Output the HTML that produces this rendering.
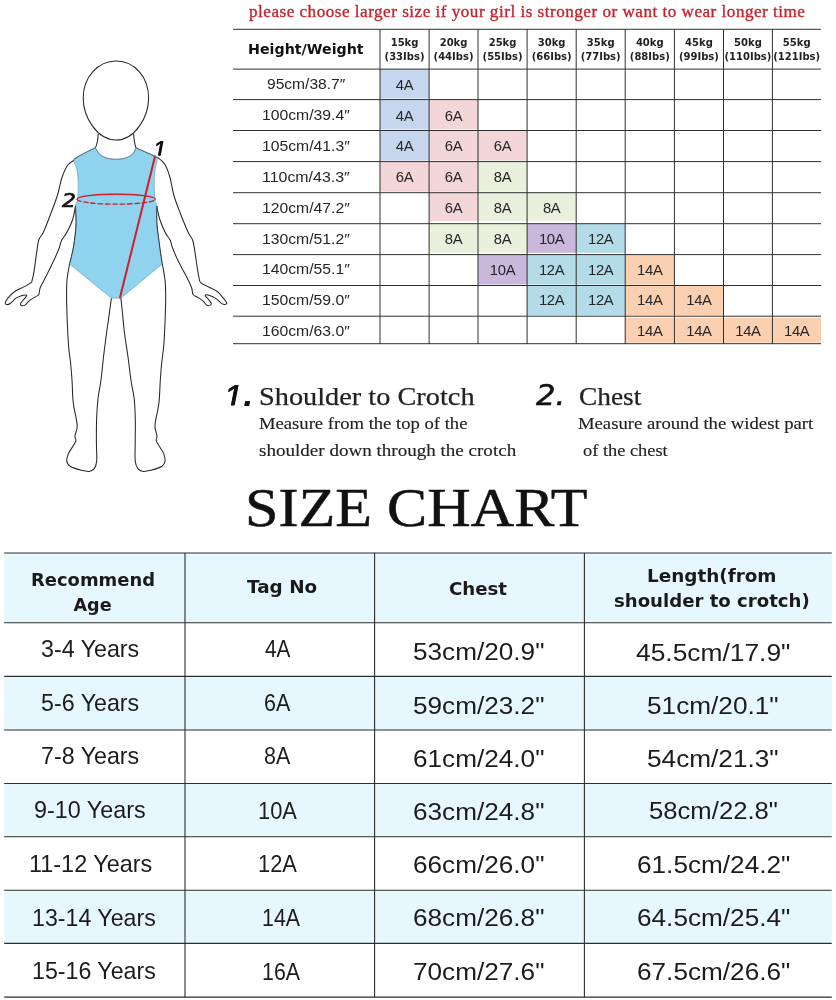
<!DOCTYPE html>
<html lang="en"><head><meta charset="utf-8"><title>Size Chart</title>
<style>
html,body{margin:0;padding:0;background:#fff;}
body{width:836px;height:1000px;position:relative;overflow:hidden;font-family:"Liberation Sans","DejaVu Sans",sans-serif;color:#1a1a1a;}
.abs{position:absolute;}
.t{position:absolute;white-space:nowrap;line-height:1;transform-origin:0 0;}
.c{text-align:center;}
.u{font-family:"Liberation Sans",sans-serif;color:#262626;}
.uh{font-family:"DejaVu Sans",sans-serif;font-weight:bold;color:#222;}
.b{font-family:"Liberation Sans",sans-serif;color:#1c1c1c;}
.bh{font-family:"DejaVu Sans",sans-serif;font-weight:bold;color:#1a1a1a;}
.n{font-family:"DejaVu Sans",sans-serif;font-style:italic;color:#111;-webkit-text-stroke:0.55px #111;}
.n1{font-family:"Liberation Sans",sans-serif;font-style:italic;color:#111;text-shadow:0.35px 0 0 #111,-0.35px 0 0 #111;}
.g{font-family:"Liberation Serif",serif;color:#222;}
</style></head><body>
<div class="t g" id="red" style="left:248.60px;top:3.14px;font-size:17px;transform:scaleX(1.0058);color:#c4242c;letter-spacing:0.5px;-webkit-text-stroke:0.35px #c4242c;">please choose larger size if your girl is stronger or want to wear longer time</div>
<svg class="abs" style="left:0;top:0" width="836" height="360" viewBox="0 0 836 360"><rect x="380.0" y="69.1" width="49.1" height="29.5" fill="#c6d6ee"/><rect x="380.0" y="99.6" width="49.1" height="29.9" fill="#c6d6ee"/><rect x="429.1" y="99.6" width="48.9" height="29.9" fill="#f3d7d8"/><rect x="380.0" y="130.5" width="49.1" height="30.1" fill="#c6d6ee"/><rect x="429.1" y="130.5" width="48.9" height="30.1" fill="#f3d7d8"/><rect x="478" y="130.5" width="49.1" height="30.1" fill="#f3d7d8"/><rect x="380.0" y="161.6" width="49.1" height="30.1" fill="#f3d7d8"/><rect x="429.1" y="161.6" width="48.9" height="30.1" fill="#f3d7d8"/><rect x="478" y="161.6" width="49.1" height="30.1" fill="#e9f0dc"/><rect x="429.1" y="192.7" width="48.9" height="28.5" fill="#f3d7d8"/><rect x="478" y="192.7" width="49.1" height="28.5" fill="#e9f0dc"/><rect x="527.1" y="192.7" width="49.1" height="28.5" fill="#e9f0dc"/><rect x="429.1" y="223.7" width="48.9" height="29.1" fill="#e9f0dc"/><rect x="478" y="223.7" width="49.1" height="29.1" fill="#e9f0dc"/><rect x="527.1" y="223.7" width="49.1" height="29.1" fill="#c9b8dc"/><rect x="576.2" y="223.7" width="49.0" height="29.1" fill="#b3dbe8"/><rect x="478" y="254.6" width="49.1" height="29.9" fill="#c9b8dc"/><rect x="527.1" y="254.6" width="49.1" height="29.9" fill="#b3dbe8"/><rect x="576.2" y="254.6" width="49.0" height="29.9" fill="#b3dbe8"/><rect x="625.2" y="254.6" width="49.2" height="29.9" fill="#fbd0b1"/><rect x="527.1" y="285.5" width="49.1" height="29.7" fill="#b3dbe8"/><rect x="576.2" y="285.5" width="49.0" height="29.7" fill="#b3dbe8"/><rect x="625.2" y="285.5" width="49.2" height="29.7" fill="#fbd0b1"/><rect x="674.4" y="285.5" width="49.1" height="29.7" fill="#fbd0b1"/><rect x="625.2" y="317.7" width="49.2" height="25.0" fill="#fbd0b1"/><rect x="674.4" y="317.7" width="49.1" height="25.0" fill="#fbd0b1"/><rect x="723.5" y="317.7" width="48.9" height="25.0" fill="#fbd0b1"/><rect x="772.4" y="317.7" width="48.6" height="25.0" fill="#fbd0b1"/><path d="M233 29.3H821M233 69.1H821M233 99.6H821M233 130.5H821M233 161.6H821M233 192.7H821M233 223.7H821M233 254.6H821M233 285.5H821M233 316.2H821M233 343.7H821M380.0 29V344M429.1 29V344M478 29V344M527.1 29V344M576.2 29V344M625.2 29V344M674.4 29V344M723.5 29V344M772.4 29V344" stroke="#303030" stroke-width="1" fill="none"/></svg>
<div class="t uh" id="hw" style="left:247.51px;top:42.05px;font-size:14.3px;transform:scaleX(0.9957);color:#111;">Height/Weight</div>
<div class="t c uh" style="left:374.0px;width:61.1px;top:37.64px;font-size:10px;">15kg</div>
<div class="t c uh" style="left:374.0px;width:61.1px;top:52.14px;font-size:10px;">(33Ibs)</div>
<div class="t c uh" style="left:423.1px;width:60.9px;top:37.64px;font-size:10px;">20kg</div>
<div class="t c uh" style="left:423.1px;width:60.9px;top:52.14px;font-size:10px;">(44Ibs)</div>
<div class="t c uh" style="left:472.0px;width:61.1px;top:37.64px;font-size:10px;">25kg</div>
<div class="t c uh" style="left:472.0px;width:61.1px;top:52.14px;font-size:10px;">(55Ibs)</div>
<div class="t c uh" style="left:521.1px;width:61.1px;top:37.64px;font-size:10px;">30kg</div>
<div class="t c uh" style="left:521.1px;width:61.1px;top:52.14px;font-size:10px;">(66Ibs)</div>
<div class="t c uh" style="left:570.2px;width:61.0px;top:37.64px;font-size:10px;">35kg</div>
<div class="t c uh" style="left:570.2px;width:61.0px;top:52.14px;font-size:10px;">(77Ibs)</div>
<div class="t c uh" style="left:619.2px;width:61.2px;top:37.64px;font-size:10px;">40kg</div>
<div class="t c uh" style="left:619.2px;width:61.2px;top:52.14px;font-size:10px;">(88Ibs)</div>
<div class="t c uh" style="left:668.4px;width:61.1px;top:37.64px;font-size:10px;">45kg</div>
<div class="t c uh" style="left:668.4px;width:61.1px;top:52.14px;font-size:10px;">(99Ibs)</div>
<div class="t c uh" style="left:717.5px;width:60.9px;top:37.64px;font-size:10px;">50kg</div>
<div class="t c uh" style="left:717.5px;width:60.9px;top:52.14px;font-size:10px;">(110Ibs)</div>
<div class="t c uh" style="left:766.4px;width:60.6px;top:37.64px;font-size:10px;">55kg</div>
<div class="t c uh" style="left:766.4px;width:60.6px;top:52.14px;font-size:10px;">(121Ibs)</div>
<div class="t u" id="h0" style="left:266.59px;top:77.17px;font-size:14.8px;transform:scaleX(1.0527);">95cm/38.7″</div>
<div class="t c u" style="left:380.0px;width:49.1px;top:77.57px;font-size:14.8px;letter-spacing:-0.3px;">4A</div>
<div class="t u" id="h1" style="left:262.14px;top:108.27px;font-size:14.8px;transform:scaleX(1.0630);">100cm/39.4″</div>
<div class="t c u" style="left:380.0px;width:49.1px;top:108.67px;font-size:14.8px;letter-spacing:-0.3px;">4A</div>
<div class="t c u" style="left:429.1px;width:48.9px;top:108.67px;font-size:14.8px;letter-spacing:-0.3px;">6A</div>
<div class="t u" id="h2" style="left:262.14px;top:139.07px;font-size:14.8px;transform:scaleX(1.0630);">105cm/41.3″</div>
<div class="t c u" style="left:380.0px;width:49.1px;top:139.47px;font-size:14.8px;letter-spacing:-0.3px;">4A</div>
<div class="t c u" style="left:429.1px;width:48.9px;top:139.47px;font-size:14.8px;letter-spacing:-0.3px;">6A</div>
<div class="t c u" style="left:478.0px;width:49.1px;top:139.47px;font-size:14.8px;letter-spacing:-0.3px;">6A</div>
<div class="t u" id="h3" style="left:262.13px;top:169.77px;font-size:14.8px;transform:scaleX(1.0762);">110cm/43.3″</div>
<div class="t c u" style="left:380.0px;width:49.1px;top:170.17px;font-size:14.8px;letter-spacing:-0.3px;">6A</div>
<div class="t c u" style="left:429.1px;width:48.9px;top:170.17px;font-size:14.8px;letter-spacing:-0.3px;">6A</div>
<div class="t c u" style="left:478.0px;width:49.1px;top:170.17px;font-size:14.8px;letter-spacing:-0.3px;">8A</div>
<div class="t u" id="h4" style="left:262.14px;top:200.87px;font-size:14.8px;transform:scaleX(1.0630);">120cm/47.2″</div>
<div class="t c u" style="left:429.1px;width:48.9px;top:201.27px;font-size:14.8px;letter-spacing:-0.3px;">6A</div>
<div class="t c u" style="left:478.0px;width:49.1px;top:201.27px;font-size:14.8px;letter-spacing:-0.3px;">8A</div>
<div class="t c u" style="left:527.1px;width:49.1px;top:201.27px;font-size:14.8px;letter-spacing:-0.3px;">8A</div>
<div class="t u" id="h5" style="left:262.14px;top:231.57px;font-size:14.8px;transform:scaleX(1.0630);">130cm/51.2″</div>
<div class="t c u" style="left:429.1px;width:48.9px;top:231.97px;font-size:14.8px;letter-spacing:-0.3px;">8A</div>
<div class="t c u" style="left:478.0px;width:49.1px;top:231.97px;font-size:14.8px;letter-spacing:-0.3px;">8A</div>
<div class="t c u" style="left:527.1px;width:49.1px;top:231.97px;font-size:14.8px;letter-spacing:-0.3px;">10A</div>
<div class="t c u" style="left:576.2px;width:49.0px;top:231.97px;font-size:14.8px;letter-spacing:-0.3px;">12A</div>
<div class="t u" id="h6" style="left:262.14px;top:262.37px;font-size:14.8px;transform:scaleX(1.0630);">140cm/55.1″</div>
<div class="t c u" style="left:478.0px;width:49.1px;top:262.77px;font-size:14.8px;letter-spacing:-0.3px;">10A</div>
<div class="t c u" style="left:527.1px;width:49.1px;top:262.77px;font-size:14.8px;letter-spacing:-0.3px;">12A</div>
<div class="t c u" style="left:576.2px;width:49.0px;top:262.77px;font-size:14.8px;letter-spacing:-0.3px;">12A</div>
<div class="t c u" style="left:625.2px;width:49.2px;top:262.77px;font-size:14.8px;letter-spacing:-0.3px;">14A</div>
<div class="t u" id="h7" style="left:262.14px;top:293.07px;font-size:14.8px;transform:scaleX(1.0630);">150cm/59.0″</div>
<div class="t c u" style="left:527.1px;width:49.1px;top:293.47px;font-size:14.8px;letter-spacing:-0.3px;">12A</div>
<div class="t c u" style="left:576.2px;width:49.0px;top:293.47px;font-size:14.8px;letter-spacing:-0.3px;">12A</div>
<div class="t c u" style="left:625.2px;width:49.2px;top:293.47px;font-size:14.8px;letter-spacing:-0.3px;">14A</div>
<div class="t c u" style="left:674.4px;width:49.1px;top:293.47px;font-size:14.8px;letter-spacing:-0.3px;">14A</div>
<div class="t u" id="h8" style="left:262.14px;top:323.97px;font-size:14.8px;transform:scaleX(1.0630);">160cm/63.0″</div>
<div class="t c u" style="left:625.2px;width:49.2px;top:324.37px;font-size:14.8px;letter-spacing:-0.3px;">14A</div>
<div class="t c u" style="left:674.4px;width:49.1px;top:324.37px;font-size:14.8px;letter-spacing:-0.3px;">14A</div>
<div class="t c u" style="left:723.5px;width:48.9px;top:324.37px;font-size:14.8px;letter-spacing:-0.3px;">14A</div>
<div class="t c u" style="left:772.4px;width:48.6px;top:324.37px;font-size:14.8px;letter-spacing:-0.3px;">14A</div>
<div class="t g" id="s1" style="left:259.06px;top:383.51px;font-size:25.8px;transform:scaleX(1.0979);-webkit-text-stroke:0.25px #222;">Shoulder to Crotch</div>
<div class="t g" id="s1a" style="left:259.38px;top:415.39px;font-size:17.3px;transform:scaleX(1.0777);-webkit-text-stroke:0.15px #222;">Measure from the top of the</div>
<div class="t g" id="s1b" style="left:259.37px;top:442.49px;font-size:17.3px;transform:scaleX(1.1026);-webkit-text-stroke:0.15px #222;">shoulder down through the crotch</div>
<div class="t g" id="s2" style="left:578.76px;top:383.71px;font-size:25.8px;transform:scaleX(1.0603);-webkit-text-stroke:0.25px #222;">Chest</div>
<div class="t g" id="s2a" style="left:578.17px;top:415.39px;font-size:17.3px;transform:scaleX(1.0798);-webkit-text-stroke:0.15px #222;">Measure around the widest part</div>
<div class="t g" id="s2b" style="left:583.21px;top:441.89px;font-size:17.3px;transform:scaleX(1.0625);-webkit-text-stroke:0.15px #222;">of the chest</div>
<div class="t g" id="title" style="left:244.88px;top:480.19px;font-size:55px;transform:scaleX(1.0942);color:#111;-webkit-text-stroke:0.5px #111;">SIZE CHART</div>
<div class="t n1" id="n1" style="left:223.54px;top:379.8px;font-size:34.5px;"><span style="display:inline-block;clip-path:inset(0 0 9.0px 0);">1</span><span style="position:absolute;left:19.3px;top:-10.9px;font-size:44px;line-height:1;">.</span></div>
<div class="t n" id="n2" style="left:536.37px;top:381.92px;font-size:27.5px;transform:scaleX(1.1130);">2.</div>
<svg class="abs" style="left:0;top:540px" width="836" height="460" viewBox="0 540 836 460"><rect x="4.2" y="553" width="827.6" height="69.7" fill="#e7f7fe"/><rect x="4.2" y="676.4" width="827.6" height="53.6" fill="#e7f7fe"/><rect x="4.2" y="783.5" width="827.6" height="53.3" fill="#e7f7fe"/><rect x="4.2" y="890.2" width="827.6" height="53.2" fill="#e7f7fe"/><path d="M4.2 553H831.8M4.2 622.7H831.8M4.2 676.4H831.8M4.2 730H831.8M4.2 783.5H831.8M4.2 836.8H831.8M4.2 890.2H831.8M4.2 943.4H831.8M4.2 997.1H831.8M185 553V997.1M374.6 553V997.1M584.4 553V997.1" stroke="#2e2e2e" stroke-width="1.1" fill="none"/></svg>
<div class="t bh" id="lh0a" style="left:30.58px;top:571.75px;font-size:17.6px;transform:scaleX(1.0185);">Recommend</div>
<div class="t bh" id="lh0b" style="left:73.50px;top:596.75px;font-size:17.6px;">Age</div>
<div class="t bh" id="lh1" style="left:246.51px;top:578.50px;font-size:17.6px;transform:scaleX(1.0448);">Tag No</div>
<div class="t bh" id="lh2" style="left:448.98px;top:581.00px;font-size:17.6px;transform:scaleX(1.0318);">Chest</div>
<div class="t bh" id="lh3a" style="left:646.73px;top:568.10px;font-size:17.6px;transform:scaleX(1.0446);">Length(from</div>
<div class="t bh" id="lh3b" style="left:613.97px;top:592.50px;font-size:17.6px;transform:scaleX(1.0293);">shoulder to crotch)</div>
<div class="t b" id="a0" style="left:41.05px;top:637.25px;font-size:24.4px;transform:scaleX(0.9530);">3-4 Years</div>
<div class="t b" id="b0" style="left:265.00px;top:637.25px;font-size:24.4px;transform:scaleX(0.8500);">4A</div>
<div class="t b" id="c0" style="left:412.89px;top:640.25px;font-size:24.4px;transform:scaleX(1.0725);">53cm/20.9"</div>
<div class="t b" id="d0" style="left:635.96px;top:641.25px;font-size:24.4px;transform:scaleX(1.0809);">45.5cm/17.9"</div>
<div class="t b" id="a1" style="left:41.05px;top:690.75px;font-size:24.4px;transform:scaleX(0.9530);">5-6 Years</div>
<div class="t b" id="b1" style="left:264.12px;top:690.75px;font-size:24.4px;transform:scaleX(0.8793);">6A</div>
<div class="t b" id="c1" style="left:412.89px;top:694.00px;font-size:24.4px;transform:scaleX(1.0725);">59cm/23.2"</div>
<div class="t b" id="d1" style="left:646.68px;top:694.15px;font-size:24.4px;transform:scaleX(1.0742);">51cm/20.1"</div>
<div class="t b" id="a2" style="left:41.05px;top:744.15px;font-size:24.4px;transform:scaleX(0.9530);">7-8 Years</div>
<div class="t b" id="b2" style="left:264.12px;top:744.15px;font-size:24.4px;transform:scaleX(0.8793);">8A</div>
<div class="t b" id="c2" style="left:412.89px;top:746.75px;font-size:24.4px;transform:scaleX(1.0725);">61cm/24.0"</div>
<div class="t b" id="d2" style="left:646.68px;top:746.65px;font-size:24.4px;transform:scaleX(1.0742);">54cm/21.3"</div>
<div class="t b" id="a3" style="left:34.06px;top:798.05px;font-size:24.4px;transform:scaleX(0.9579);">9-10 Years</div>
<div class="t b" id="b3" style="left:258.20px;top:798.75px;font-size:24.4px;transform:scaleX(0.8976);">10A</div>
<div class="t b" id="c3" style="left:412.89px;top:799.55px;font-size:24.4px;transform:scaleX(1.0725);">63cm/24.8"</div>
<div class="t b" id="d3" style="left:648.56px;top:799.35px;font-size:24.4px;transform:scaleX(1.0521);">58cm/22.8"</div>
<div class="t b" id="a4" style="left:28.67px;top:851.65px;font-size:24.4px;transform:scaleX(0.9603);">11-12 Years</div>
<div class="t b" id="b4" style="left:258.20px;top:852.35px;font-size:24.4px;transform:scaleX(0.8976);">12A</div>
<div class="t b" id="c4" style="left:412.89px;top:852.95px;font-size:24.4px;transform:scaleX(1.0725);">66cm/26.0"</div>
<div class="t b" id="d4" style="left:636.55px;top:852.55px;font-size:24.4px;transform:scaleX(1.0730);">61.5cm/24.2"</div>
<div class="t b" id="a5" style="left:31.90px;top:905.65px;font-size:24.4px;transform:scaleX(0.9504);">13-14 Years</div>
<div class="t b" id="b5" style="left:261.81px;top:905.95px;font-size:24.4px;transform:scaleX(0.8762);">14A</div>
<div class="t b" id="c5" style="left:412.89px;top:905.85px;font-size:24.4px;transform:scaleX(1.0725);">68cm/26.8"</div>
<div class="t b" id="d5" style="left:636.55px;top:905.75px;font-size:24.4px;transform:scaleX(1.0730);">64.5cm/25.4"</div>
<div class="t b" id="a6" style="left:31.90px;top:959.25px;font-size:24.4px;transform:scaleX(0.9504);">15-16 Years</div>
<div class="t b" id="b6" style="left:261.81px;top:959.95px;font-size:24.4px;transform:scaleX(0.8762);">16A</div>
<div class="t b" id="c6" style="left:412.89px;top:959.75px;font-size:24.4px;transform:scaleX(1.0725);">70cm/27.6"</div>
<div class="t b" id="d6" style="left:636.55px;top:959.55px;font-size:24.4px;transform:scaleX(1.0730);">67.5cm/26.6"</div>
<svg class="abs" style="left:0;top:0" width="240" height="540" viewBox="0 0 240 540">
<g fill="none" stroke="#262626" stroke-width="1.05" stroke-linejoin="round" stroke-linecap="round">
<path d="M98.2 134 C97.9 140 97.4 144 95.4 147.8 M133.6 134 C134 140 134.5 144 136 147.8"/>
<path d="M116.2 61 C134.5 61 148.6 77 148.6 98 C148.6 117 135 140 116.2 140 C97 140 83.2 117 83.2 98 C83.2 77 98 61 116.2 61 Z" fill="#fff"/>
<path d="M74.5 160.0 C73.3 160.9 69.6 162.6 67.5 165.5 C65.4 168.4 63.7 172.6 62.0 177.5 C60.3 182.4 59.3 189.2 57.5 195.0 C55.7 200.8 53.6 206.3 51.2 212.5 C48.9 218.7 45.6 227.4 43.5 232.0 C41.4 236.6 40.0 236.3 38.8 240.0 C37.6 243.7 37.2 249.1 36.4 254.4 C35.6 259.7 34.7 267.3 34.0 271.6 C33.3 275.9 32.6 278.4 32.1 280.2 C31.6 282.0 32.5 281.5 31.1 282.6 C29.7 283.7 26.7 285.4 23.9 286.9 C21.1 288.4 17.1 289.8 14.4 291.7 C11.7 293.6 9.2 296.6 7.7 298.4 C6.2 300.2 5.5 301.7 5.3 302.7 C5.1 303.7 5.8 304.5 6.7 304.6 C7.6 304.7 8.9 304.3 10.5 303.2 C12.1 302.1 14.4 299.2 16.3 297.9 C18.2 296.6 20.4 296.0 22.0 295.5 C23.6 295.0 25.0 294.9 25.8 295.0 C26.6 295.1 27.1 295.1 26.6 296.0 C26.1 296.9 24.0 299.0 23.0 300.3 C22.0 301.6 20.9 302.7 20.6 303.6 C20.4 304.5 20.8 305.4 21.5 305.6 C22.2 305.9 23.5 306.0 24.9 305.1 C26.3 304.2 27.9 301.7 29.7 300.3 C31.4 298.9 33.9 297.9 35.4 296.9 C36.9 295.9 38.0 296.0 38.8 294.5 C39.6 293.0 39.2 290.5 40.2 287.8 C41.2 285.1 42.8 282.8 45.0 278.3 C47.2 273.8 51.2 266.1 53.6 261.0 C56.0 255.9 57.9 251.2 59.3 247.7 C60.6 244.2 60.5 242.4 61.7 240.0 C62.9 237.6 64.7 236.3 66.5 233.0 C68.3 229.7 71.0 224.5 72.5 220.0 C74.0 215.5 75.0 208.5 75.5 206.2"/>
<path d="M157.5 157.5 C158.7 158.5 162.4 160.4 164.5 163.8 C166.6 167.1 168.5 172.3 170.0 177.5 C171.5 182.7 172.1 189.2 173.8 195.0 C175.4 200.8 177.6 206.3 180.0 212.5 C182.4 218.7 185.9 227.4 188.0 232.0 C190.1 236.6 191.4 236.6 192.6 240.0 C193.8 243.4 194.2 247.6 195.0 252.4 C195.8 257.2 196.7 264.2 197.4 268.7 C198.1 273.2 198.8 276.9 199.3 279.2 C199.9 281.5 199.3 281.4 200.7 282.6 C202.0 283.8 204.7 285.0 207.4 286.4 C210.1 287.8 214.4 289.4 217.0 291.2 C219.6 293.0 221.1 295.5 222.7 297.4 C224.3 299.3 226.1 301.5 226.6 302.7 C227.1 303.9 226.4 304.1 225.6 304.3 C224.8 304.5 223.2 304.4 221.8 303.6 C220.4 302.8 218.6 300.5 217.0 299.3 C215.4 298.1 213.9 297.3 212.2 296.5 C210.4 295.7 207.7 294.8 206.5 294.7 C205.3 294.6 205.0 294.9 205.3 295.7 C205.6 296.5 207.4 298.1 208.4 299.3 C209.4 300.6 210.9 302.2 211.2 303.2 C211.5 304.2 211.0 304.8 210.3 305.1 C209.6 305.5 208.1 306.0 206.9 305.3 C205.7 304.6 204.6 302.5 203.1 301.2 C201.6 299.9 199.5 298.5 197.8 297.4 C196.1 296.3 194.1 296.1 193.1 294.5 C192.1 292.9 192.6 290.5 191.6 287.8 C190.6 285.1 189.5 282.6 187.3 278.3 C185.2 274.0 181.2 267.1 178.7 262.0 C176.2 256.9 173.9 251.4 172.5 247.7 C171.1 244.0 171.3 242.4 170.1 240.0 C168.9 237.6 167.2 236.3 165.5 233.0 C163.8 229.7 161.5 224.5 160.0 220.0 C158.5 215.5 157.3 208.5 156.8 206.2"/>
<path d="M69.5 264.0 C69.1 266.7 67.5 274.5 67.0 280.0 C66.5 285.5 66.6 290.3 66.6 297.0 C66.6 303.7 66.9 312.0 67.2 320.0 C67.5 328.0 68.0 338.0 68.5 345.0 C69.0 352.0 69.9 356.2 70.5 362.0 C71.1 367.8 71.5 373.1 72.0 380.0 C72.5 386.9 72.4 395.8 73.3 403.3 C74.2 410.8 76.9 419.7 77.2 425.1 C77.5 430.6 75.2 433.3 74.9 436.0 C74.7 438.7 76.7 438.5 75.7 441.4 C74.7 444.2 70.2 449.9 68.7 453.1 C67.2 456.4 66.5 458.7 66.8 460.9 C67.0 463.1 67.8 464.8 70.2 466.3 C72.6 467.9 78.0 469.4 81.1 470.2 C84.2 471.0 86.7 471.7 88.9 471.4 C91.1 471.1 93.0 470.4 94.3 468.6 C95.6 466.9 96.3 465.3 96.7 460.9 C97.1 456.5 96.4 449.2 96.4 442.2 C96.4 435.2 96.3 426.1 96.6 418.9 C96.9 411.6 97.3 405.2 98.0 398.7 C98.7 392.2 100.1 386.9 101.0 380.0 C101.9 373.1 102.6 364.7 103.5 357.0 C104.4 349.3 105.5 341.1 106.4 334.0 C107.4 326.9 108.4 320.4 109.2 314.4 C110.0 308.4 111.0 300.8 111.4 298.1"/>
<path d="M162.3 264.0 C162.8 266.7 164.4 274.5 165.0 280.0 C165.6 285.5 165.7 290.3 165.7 297.0 C165.7 303.7 165.4 312.0 165.1 320.0 C164.8 328.0 164.4 338.0 163.8 345.0 C163.2 352.0 162.4 356.2 161.8 362.0 C161.2 367.8 160.8 373.1 160.3 380.0 C159.8 386.9 159.8 395.8 158.9 403.3 C158.0 410.8 155.3 419.7 155.0 425.1 C154.7 430.6 156.8 433.3 157.0 436.0 C157.2 438.7 155.4 438.5 156.5 441.4 C157.6 444.2 162.1 449.9 163.5 453.1 C164.9 456.4 165.3 458.7 165.1 460.9 C164.8 463.1 164.3 464.8 162.0 466.3 C159.7 467.9 154.2 469.4 151.1 470.2 C148.0 471.0 145.5 471.7 143.3 471.4 C141.1 471.1 139.2 470.4 137.9 468.6 C136.6 466.9 135.6 465.3 135.2 460.9 C134.8 456.5 135.2 449.2 135.2 442.2 C135.2 435.2 135.5 426.1 135.3 418.9 C135.1 411.6 134.9 405.2 134.2 398.7 C133.5 392.2 131.9 386.9 130.9 380.0 C129.9 373.1 129.1 364.7 128.0 357.0 C127.0 349.3 125.5 341.1 124.6 334.0 C123.7 326.9 123.2 320.4 122.6 314.4 C122.0 308.4 121.2 300.8 120.9 298.1"/>
<path d="M95.4 147.8 C93.2 148.9 85.6 152.4 82.0 154.4 C78.4 156.4 74.8 157.0 74.0 159.6 C73.2 162.2 76.3 165.8 77.0 170.0 C77.7 174.2 78.2 180.0 78.2 185.0 C78.3 190.0 78.0 196.5 77.5 200.0 C77.0 203.5 75.8 202.1 75.5 206.2 C75.2 210.4 76.3 218.5 76.0 225.0 C75.7 231.5 74.6 239.3 73.8 245.0 C72.9 250.7 71.5 255.8 70.8 259.0 C70.0 262.2 69.7 263.2 69.5 264.0 L111.4 298.1 L120.9 298.1 L162.3 264 C162.2 263.2 162.0 262.2 161.5 259.0 C161.0 255.8 160.2 250.7 159.5 245.0 C158.8 239.3 157.5 231.5 157.0 225.0 C156.5 218.5 157.1 210.4 156.8 206.2 C156.4 202.1 155.4 203.5 155.0 200.0 C154.6 196.5 154.2 190.0 154.2 185.0 C154.2 180.0 154.5 174.6 155.0 170.0 C155.5 165.4 158.2 160.3 157.0 157.5 C155.8 154.7 151.5 154.8 148.0 153.2 C144.5 151.6 138.0 148.7 136.0 147.8 C135.4 148.9 134.3 152.4 132.4 154.2 C130.5 155.9 127.2 157.5 124.5 158.3 C121.8 159.1 119.0 159.2 116.2 159.2 C113.4 159.2 110.3 159.1 107.5 158.3 C104.7 157.5 101.6 155.9 99.6 154.2 C97.6 152.4 96.1 148.9 95.4 147.8 Z" fill="#8fd3ee" stroke="#6aa6c4" stroke-width="0.7"/>
<path d="M95.4 147.8 C96.1 148.9 97.6 152.4 99.6 154.2 C101.6 155.9 104.7 157.5 107.5 158.3 C110.3 159.1 113.4 159.2 116.2 159.2 C119.0 159.2 121.8 159.1 124.5 158.3 C127.2 157.5 130.5 155.9 132.4 154.2 C134.3 152.4 135.4 148.9 136.0 147.8" stroke="#5b6b75" stroke-width="0.7"/>
<path d="M95.4 147.8 C93.2 148.9 85.6 152.4 82.0 154.4 C78.4 156.4 75.3 158.7 74.0 159.6" stroke="#444" stroke-width="0.8"/>
<path d="M157.0 157.5 C155.5 156.8 151.5 154.8 148.0 153.2 C144.5 151.6 138.0 148.7 136.0 147.8" stroke="#444" stroke-width="0.8"/>
<path d="M75.5 206.2 C75.6 209.4 76.3 218.5 76.0 225.0 C75.7 231.5 74.6 239.3 73.8 245.0 C72.9 250.7 71.5 255.8 70.8 259.0 C70.0 262.2 69.7 263.2 69.5 264.0" stroke-width="0.9"/>
<path d="M162.3 264.0 C162.2 263.2 162.0 262.2 161.5 259.0 C161.0 255.8 160.2 250.7 159.5 245.0 C158.8 239.3 157.5 231.5 157.0 225.0 C156.5 218.5 156.8 209.4 156.8 206.2" stroke-width="0.9"/>
</g>
<g fill="none" stroke="#cf1f2b" stroke-linecap="round">
<path d="M77.2 199.2 A39 5 0 0 1 155.2 199.2" stroke-width="1.4"/>
<path d="M77.2 199.2 A39 5 0 0 0 155.2 199.2" stroke-width="1.3" stroke-dasharray="4.5 2.8"/>
<path d="M155 156.5 L120 297.5" stroke-width="2"/>
</g>
</svg>
<div class="t n1" id="f1" style="left:153.09px;top:139.0px;font-size:23.5px;"><span style="display:inline-block;clip-path:inset(0 0 6.9px 0);">1</span></div>
<div class="t" id="f2" style="left:61.8px;top:190.6px;font-family:'DejaVu Sans',sans-serif;font-style:italic;font-size:19px;color:#111;-webkit-text-stroke:0.7px #111;transform:scaleX(1.15);">2</div>
</body></html>
